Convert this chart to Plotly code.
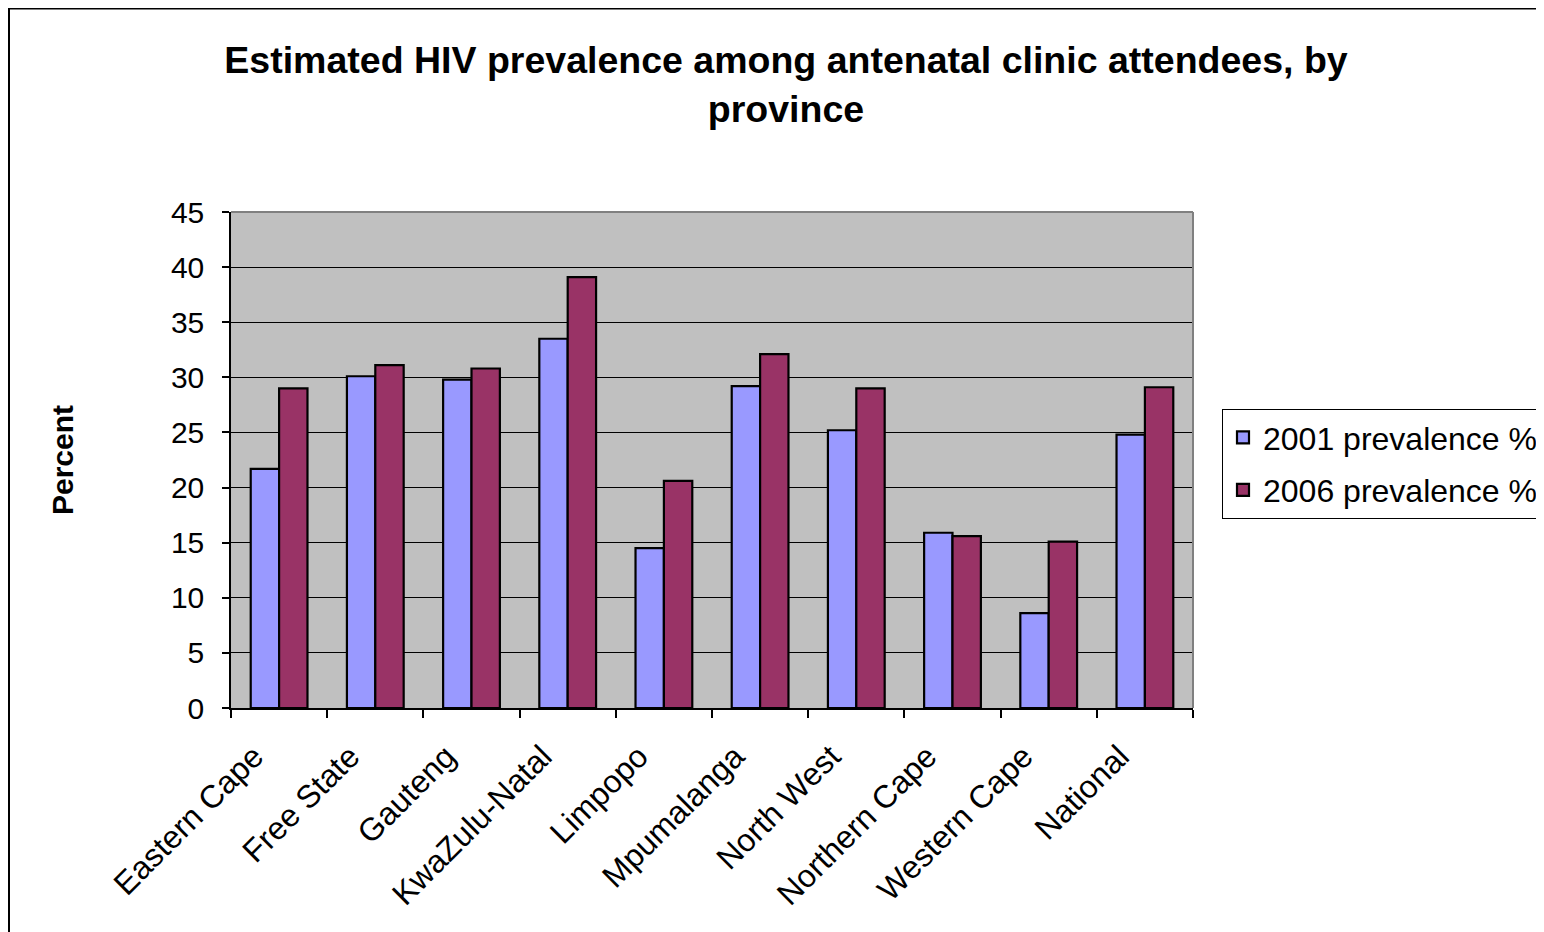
import plotly.graph_objects as go

provinces = ["Eastern Cape", "Free State", "Gauteng", "KwaZulu-Natal", "Limpopo",
             "Mpumalanga", "North West", "Northern Cape", "Western Cape", "National"]
prev_2001 = [21.7, 30.1, 29.8, 33.5, 14.5, 29.2, 25.2, 15.9, 8.6, 24.8]
prev_2006 = [29.0, 31.1, 30.8, 39.1, 20.6, 32.1, 29.0, 15.6, 15.1, 29.1]
series_names = ["2001 prevalence %", "2006 prevalence %"]
y_ticks = list(range(0, 50, 5))

OFF = 8  # page body margin
W_FIG, H_FIG = 1544 - OFF, 932 - OFF
# plot area in page pixels
L, R, T, B = 231, 1193, 212, 708
PW, PH = R - L, B - T
FONT = "Liberation Sans, Arial, sans-serif"


def px(x):
    return (x - L) / PW


def py(y):
    return (B - y) / PH


fig = go.Figure()
fig.add_trace(go.Bar(x=provinces, y=prev_2001, name=series_names[0], legendgroup="a",
                     marker=dict(color="#9999ff", line=dict(color="black", width=2.2))))
fig.add_trace(go.Bar(x=provinces, y=prev_2006, name=series_names[1], legendgroup="b",
                     marker=dict(color="#993366", line=dict(color="black", width=2.2))))

shapes = [
    dict(type="line", xref="paper", yref="paper", layer="above",
         x0=px(OFF + 1), x1=px(OFF + 1), y0=py(OFF), y1=py(940), line=dict(color="black", width=2)),
    dict(type="line", xref="paper", yref="paper", layer="above",
         x0=px(OFF), x1=px(1560), y0=py(OFF + 0.5), y1=py(OFF + 0.5), line=dict(color="black", width=2)),
    dict(type="line", xref="paper", yref="paper", layer="above",
         x0=0, x1=1, y0=1, y1=1, line=dict(color="#808080", width=2)),
    dict(type="line", xref="paper", yref="paper", layer="above",
         x0=1, x1=1, y0=0, y1=1, line=dict(color="#808080", width=2)),
]

pad = "\u00a0" * 4
tick_text = [p + pad for p in provinces]

fig.update_layout(
    width=W_FIG, height=H_FIG,
    margin=dict(l=L - OFF, r=W_FIG - (R - OFF), t=T - OFF, b=H_FIG - (B - OFF), autoexpand=False),
    paper_bgcolor="white", plot_bgcolor="#c0c0c0",
    barmode="group", bargap=0.41, bargroupgap=0,
    font=dict(family=FONT, size=30, color="black"),
    title=dict(text="Estimated HIV prevalence among antenatal clinic attendees, by<br>province",
               x=(786 - OFF) / W_FIG, xanchor="center", xref="container",
               y=1 - 65 / H_FIG, yanchor="top", yref="container",
               font=dict(family=FONT, size=37.5, color="black", weight="bold")),
    legend=dict(x=px(1222), xanchor="left", y=py(409), yanchor="top",
                bgcolor="white", bordercolor="black", borderwidth=1,
                font=dict(family=FONT, size=32, color="black"),
                tracegroupgap=8, traceorder="grouped"),
    shapes=shapes,
    xaxis=dict(showline=True, linecolor="black", linewidth=1.5, ticks="outside", ticklen=8,
               tickcolor="black", tickwidth=1.5, tickson="boundaries", tickangle=-45,
               tickvals=provinces, ticktext=tick_text, ticklabelstandoff=-10,
               showgrid=False, tickfont=dict(family=FONT, size=32)),
    yaxis=dict(range=[0, 45], tickvals=y_ticks, showline=True, linecolor="black", linewidth=1.5,
               ticks="outside", ticklen=7, tickcolor="black", tickwidth=1.5,
               showgrid=True, gridcolor="black", gridwidth=1, zeroline=False,
               tickfont=dict(family=FONT, size=30), ticklabelstandoff=12,
               title=dict(text="Percent", standoff=88,
                          font=dict(family=FONT, size=30, color="black", weight="bold"))),
)

fig.write_html("out.html")
